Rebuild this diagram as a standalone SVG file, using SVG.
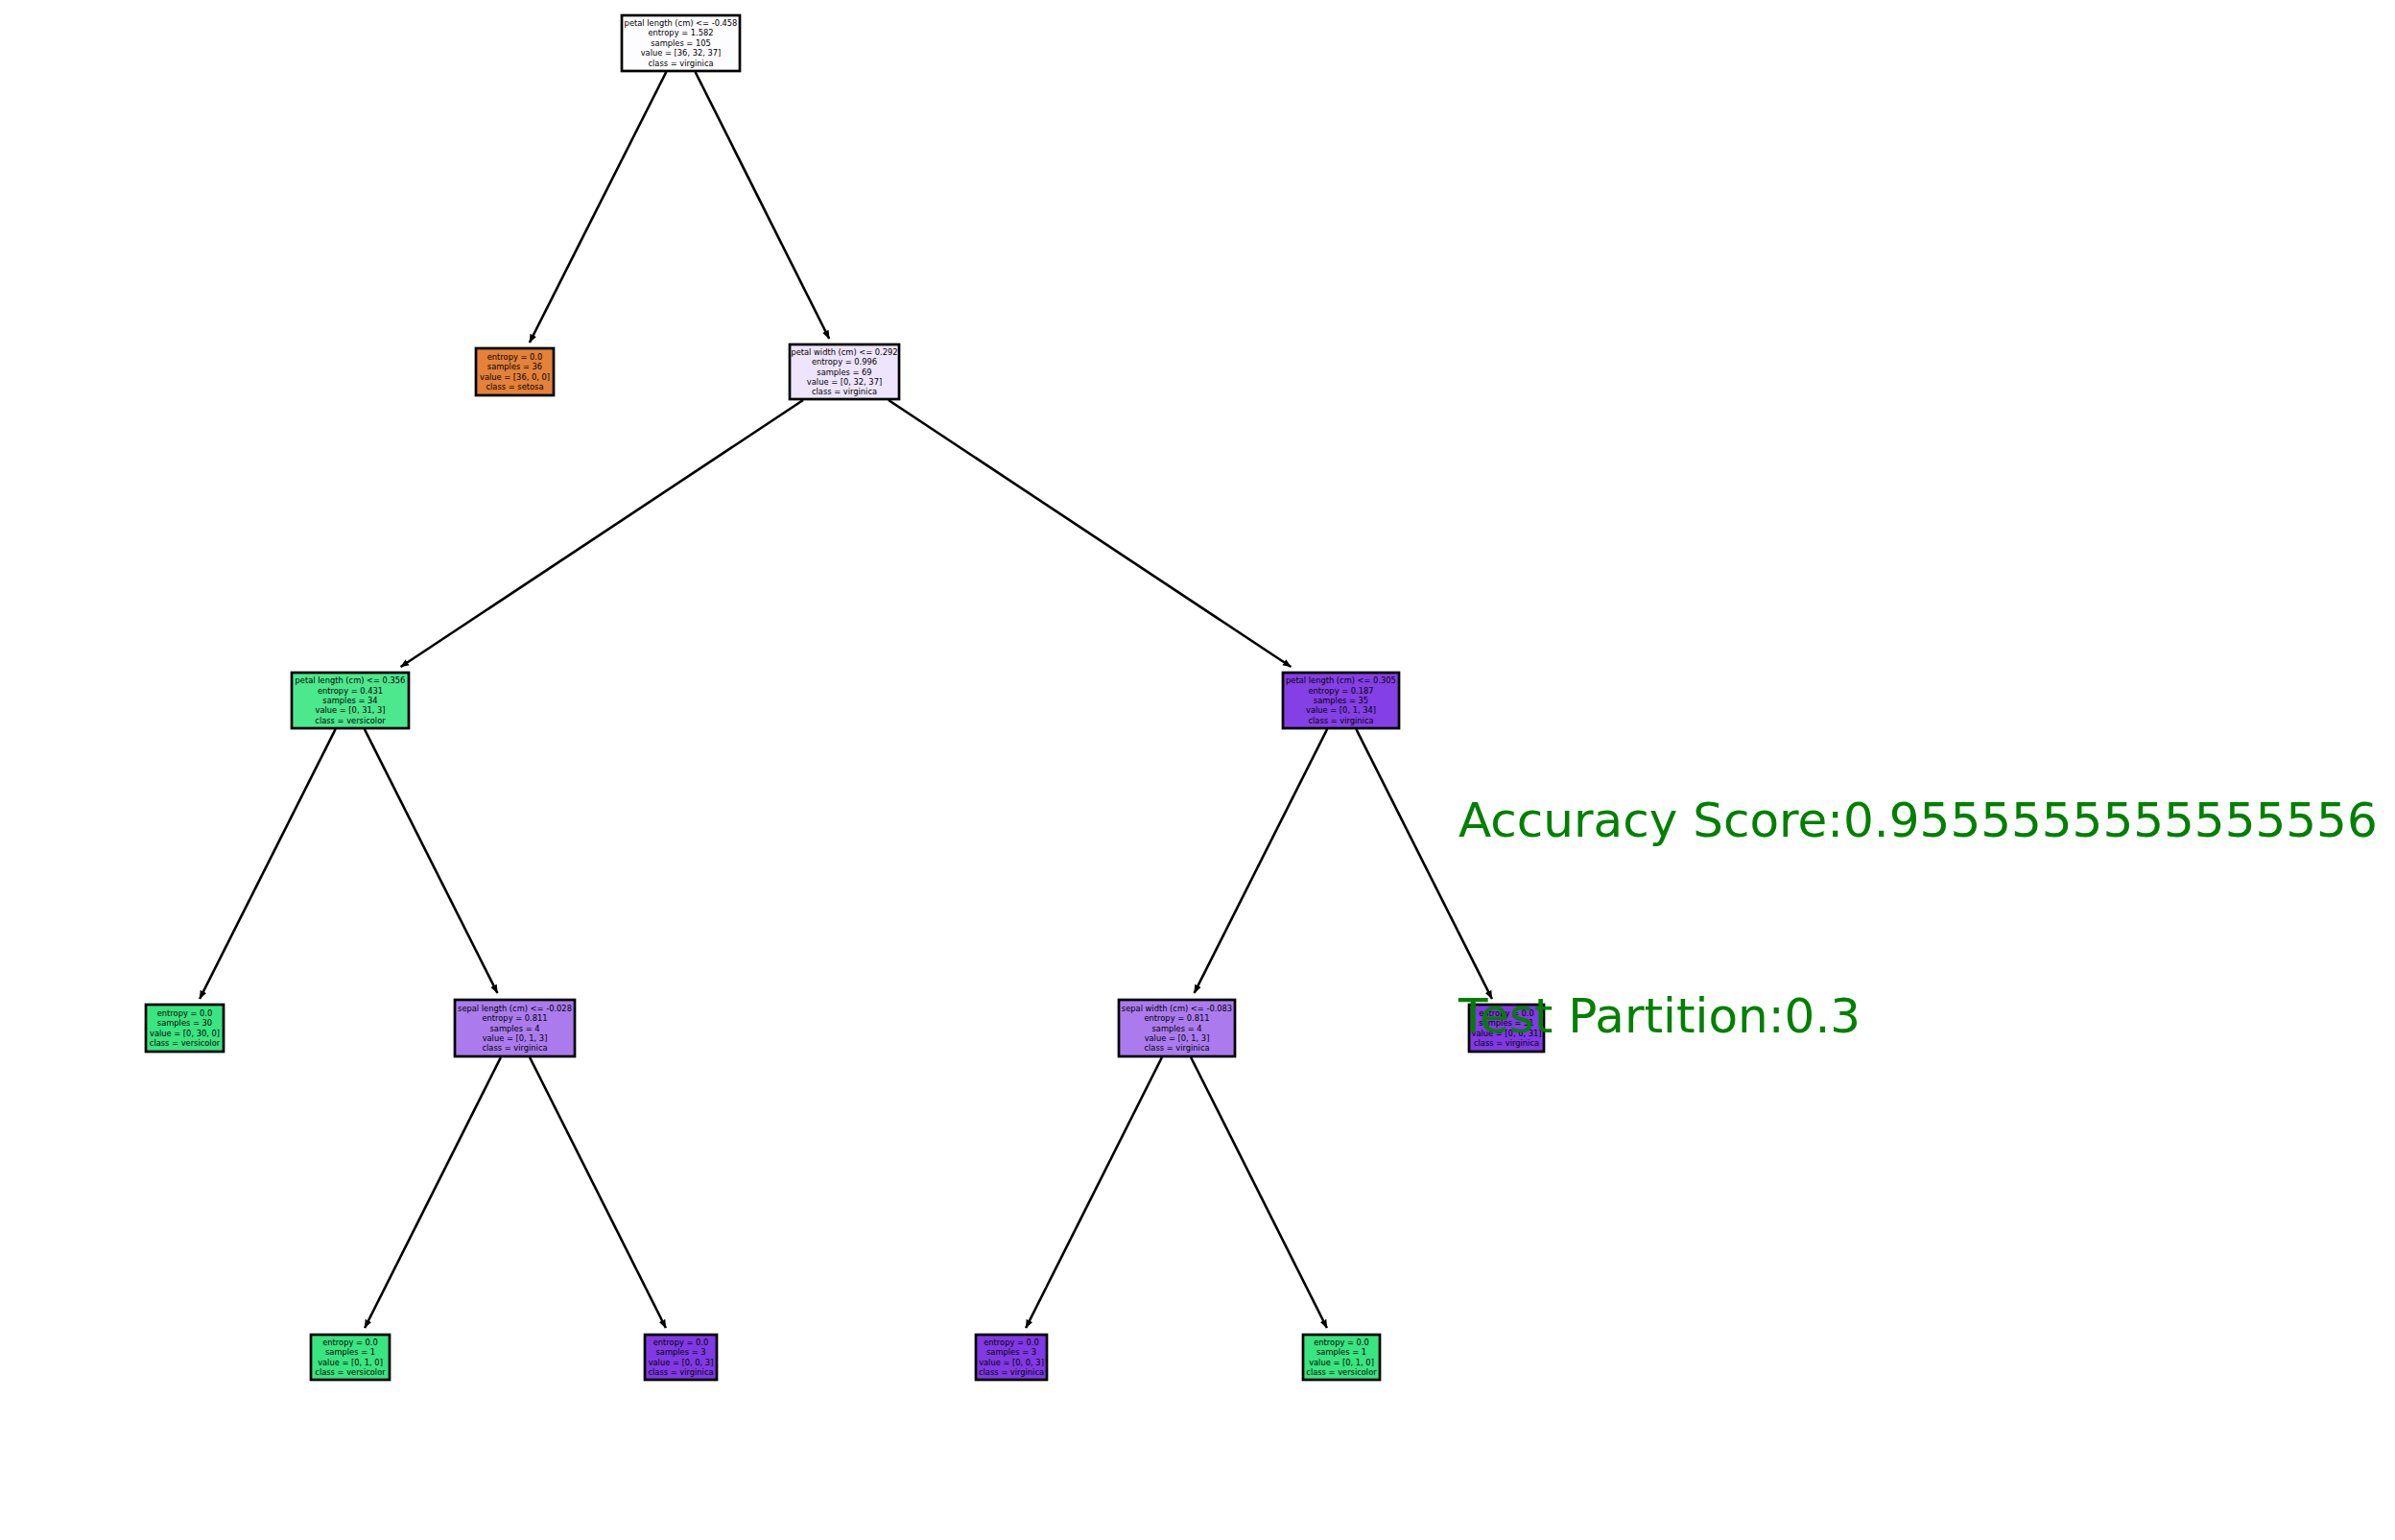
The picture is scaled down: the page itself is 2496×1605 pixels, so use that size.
<svg xmlns="http://www.w3.org/2000/svg" width="2496" height="1605" viewBox="0 0 2496 1605">
<style>
  .bg{fill:#ffffff}
  .box{stroke:#000;stroke-width:2.7}
  .t{font-family:"DejaVu Sans","Liberation Sans",sans-serif;font-size:8.3px;fill:#000;text-anchor:middle}
  .edge{stroke:#000;stroke-width:2.6;fill:none;marker-end:url(#ah)}
  .big{font-family:"DejaVu Sans","Liberation Sans",sans-serif;font-size:50px;fill:#008000}
  .white{fill:#fdfcff}.setosa{fill:#e58139}.lav{fill:#eee4fc}.grn1{fill:#4ce88d}
  .pur1{fill:#853fe6}.pur2{fill:#ab7bee}.grn{fill:#39e581}.pur{fill:#8139e5}
</style>
<defs>
  <marker id="ah" markerUnits="userSpaceOnUse" markerWidth="10" markerHeight="10" viewBox="0 0 10 10" refX="8.5" refY="5" orient="auto">
    <path d="M0,1.4 L9,5 L0,8.6 z" fill="#000"/>
  </marker>
</defs>
<rect class="bg" x="0" y="0" width="2496" height="1605"/>
<g id="connectors">
  <line class="edge" x1="694.3" y1="75" x2="551.9" y2="357"/>
  <line class="edge" x1="724.6" y1="75" x2="864.2" y2="353"/>
  <line class="edge" x1="837" y1="417" x2="417.6" y2="695"/>
  <line class="edge" x1="926" y1="417" x2="1345.4" y2="695"/>
  <line class="edge" x1="349.6" y1="760" x2="208.1" y2="1041"/>
  <line class="edge" x1="379.9" y1="760" x2="518.4" y2="1035"/>
  <line class="edge" x1="1383.1" y1="760" x2="1244.6" y2="1035"/>
  <line class="edge" x1="1413.4" y1="760" x2="1554.9" y2="1041"/>
  <line class="edge" x1="521.9" y1="1102" x2="380.1" y2="1384"/>
  <line class="edge" x1="552.1" y1="1102" x2="693.9" y2="1384"/>
  <line class="edge" x1="1210.9" y1="1102" x2="1069.1" y2="1384"/>
  <line class="edge" x1="1241.1" y1="1102" x2="1382.9" y2="1384"/>
</g>
<g id="n0">
  <rect class="box white" x="648" y="16" width="123" height="58"/>
  <text class="t" x="709.5"><tspan x="709.5" y="27">petal length (cm) &lt;= -0.458</tspan><tspan x="709.5" y="37.4">entropy = 1.582</tspan><tspan x="709.5" y="47.8">samples = 105</tspan><tspan x="709.5" y="58.2">value = [36, 32, 37]</tspan><tspan x="709.5" y="68.6">class = virginica</tspan></text>
</g>
<g id="n1">
  <rect class="box setosa" x="496" y="363" width="81" height="49"/>
  <text class="t"><tspan x="536.5" y="374.9">entropy = 0.0</tspan><tspan x="536.5" y="385.3">samples = 36</tspan><tspan x="536.5" y="395.7">value = [36, 0, 0]</tspan><tspan x="536.5" y="406.1">class = setosa</tspan></text>
</g>
<g id="n2">
  <rect class="box lav" x="823" y="359" width="114" height="57"/>
  <text class="t"><tspan x="880" y="369.7">petal width (cm) &lt;= 0.292</tspan><tspan x="880" y="380.1">entropy = 0.996</tspan><tspan x="880" y="390.5">samples = 69</tspan><tspan x="880" y="400.9">value = [0, 32, 37]</tspan><tspan x="880" y="411.3">class = virginica</tspan></text>
</g>
<g id="n3">
  <rect class="box grn1" x="304" y="701" width="122" height="58"/>
  <text class="t"><tspan x="365" y="712.2">petal length (cm) &lt;= 0.356</tspan><tspan x="365" y="722.6">entropy = 0.431</tspan><tspan x="365" y="733">samples = 34</tspan><tspan x="365" y="743.4">value = [0, 31, 3]</tspan><tspan x="365" y="753.8">class = versicolor</tspan></text>
</g>
<g id="n4">
  <rect class="box pur1" x="1337" y="701" width="121" height="58"/>
  <text class="t"><tspan x="1397.5" y="712.2">petal length (cm) &lt;= 0.305</tspan><tspan x="1397.5" y="722.6">entropy = 0.187</tspan><tspan x="1397.5" y="733">samples = 35</tspan><tspan x="1397.5" y="743.4">value = [0, 1, 34]</tspan><tspan x="1397.5" y="753.8">class = virginica</tspan></text>
</g>
<g id="n5">
  <rect class="box grn" x="152" y="1047" width="81" height="49"/>
  <text class="t"><tspan x="192.5" y="1059">entropy = 0.0</tspan><tspan x="192.5" y="1069.4">samples = 30</tspan><tspan x="192.5" y="1079.8">value = [0, 30, 0]</tspan><tspan x="192.5" y="1090.2">class = versicolor</tspan></text>
</g>
<g id="n6">
  <rect class="box pur2" x="474" y="1042" width="125" height="59"/>
  <text class="t"><tspan x="536.5" y="1053.7">sepal length (cm) &lt;= -0.028</tspan><tspan x="536.5" y="1064.1">entropy = 0.811</tspan><tspan x="536.5" y="1074.5">samples = 4</tspan><tspan x="536.5" y="1084.9">value = [0, 1, 3]</tspan><tspan x="536.5" y="1095.3">class = virginica</tspan></text>
</g>
<g id="n7">
  <rect class="box pur2" x="1166" y="1042" width="121" height="59"/>
  <text class="t"><tspan x="1226.5" y="1053.7">sepal width (cm) &lt;= -0.083</tspan><tspan x="1226.5" y="1064.1">entropy = 0.811</tspan><tspan x="1226.5" y="1074.5">samples = 4</tspan><tspan x="1226.5" y="1084.9">value = [0, 1, 3]</tspan><tspan x="1226.5" y="1095.3">class = virginica</tspan></text>
</g>
<g id="n8">
  <rect class="box pur" x="1531" y="1047" width="78" height="49"/>
  <text class="t"><tspan x="1570" y="1059">entropy = 0.0</tspan><tspan x="1570" y="1069.4">samples = 31</tspan><tspan x="1570" y="1079.8">value = [0, 0, 31]</tspan><tspan x="1570" y="1090.2">class = virginica</tspan></text>
</g>
<g id="n9">
  <rect class="box grn" x="324" y="1391" width="82" height="47"/>
  <text class="t"><tspan x="365" y="1402">entropy = 0.0</tspan><tspan x="365" y="1412.4">samples = 1</tspan><tspan x="365" y="1422.8">value = [0, 1, 0]</tspan><tspan x="365" y="1433.2">class = versicolor</tspan></text>
</g>
<g id="n10">
  <rect class="box pur" x="672" y="1391" width="75" height="47"/>
  <text class="t"><tspan x="709.5" y="1402">entropy = 0.0</tspan><tspan x="709.5" y="1412.4">samples = 3</tspan><tspan x="709.5" y="1422.8">value = [0, 0, 3]</tspan><tspan x="709.5" y="1433.2">class = virginica</tspan></text>
</g>
<g id="n11">
  <rect class="box pur" x="1017" y="1391" width="74" height="47"/>
  <text class="t"><tspan x="1054" y="1402">entropy = 0.0</tspan><tspan x="1054" y="1412.4">samples = 3</tspan><tspan x="1054" y="1422.8">value = [0, 0, 3]</tspan><tspan x="1054" y="1433.2">class = virginica</tspan></text>
</g>
<g id="n12">
  <rect class="box grn" x="1358" y="1391" width="80" height="47"/>
  <text class="t"><tspan x="1398" y="1402">entropy = 0.0</tspan><tspan x="1398" y="1412.4">samples = 1</tspan><tspan x="1398" y="1422.8">value = [0, 1, 0]</tspan><tspan x="1398" y="1433.2">class = versicolor</tspan></text>
</g>
<g id="labels">
  <text class="big" x="1520" y="872">Accuracy Score:0.9555555555555556</text>
  <text class="big" x="1520" y="1076">Test Partition:0.3</text>
</g>
</svg>
